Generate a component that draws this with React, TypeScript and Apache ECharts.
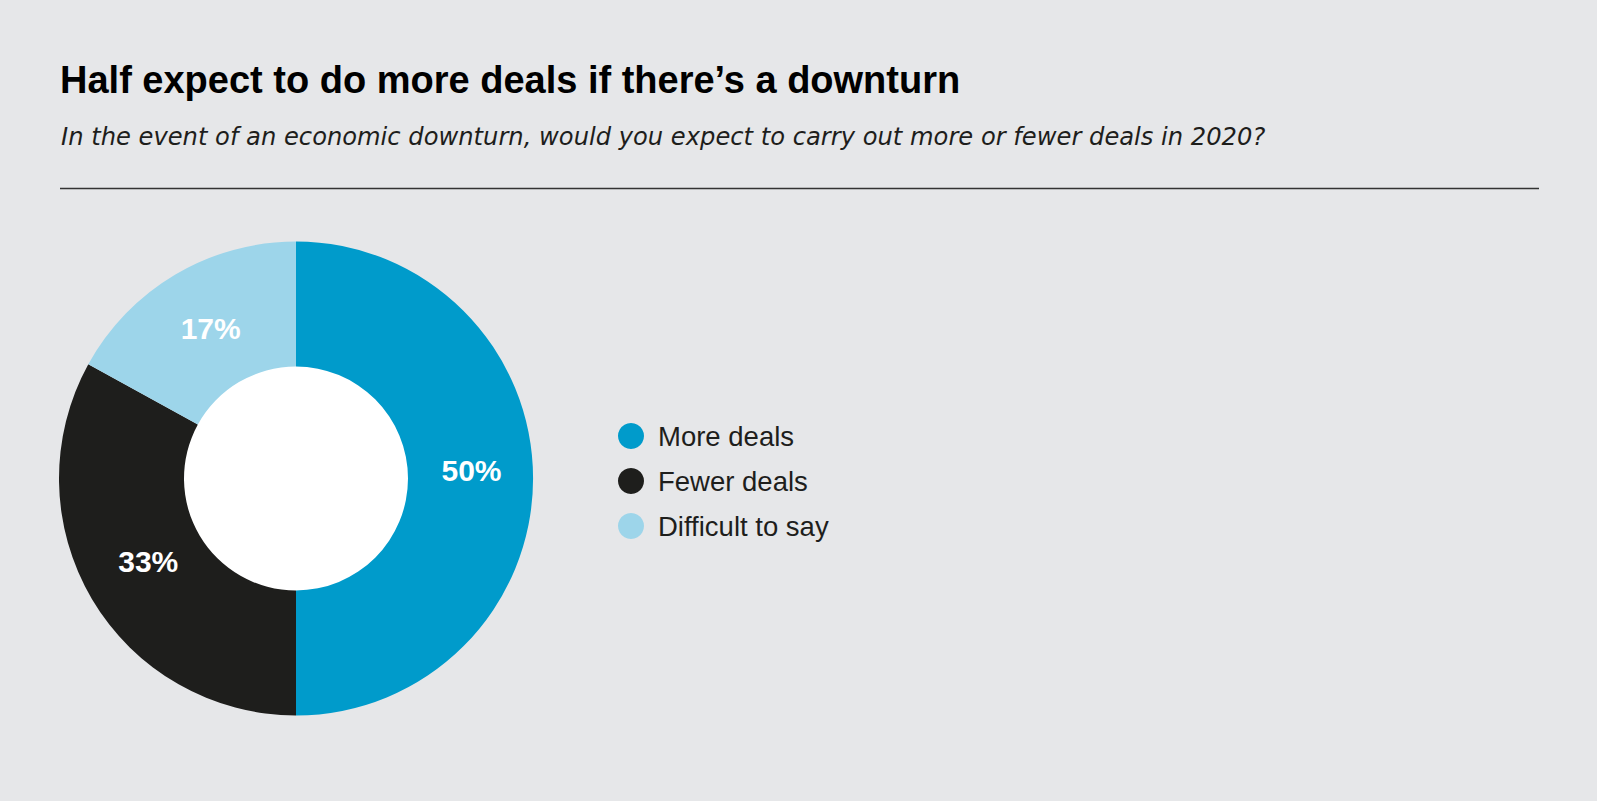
import React, { useEffect, useRef } from "react";
import * as echarts from "echarts";

const categories = ["More deals", "Fewer deals", "Difficult to say"];
const shares = [50, 33, 17];
const sliceColors = ["#009BCB", "#1E1E1C", "#9DD5EA"];
const labelOffsets = [
  [-2, -8],
  [5, -7],
  [5, 3],
];
const titleText = "Half expect to do more deals if there\u2019s a downturn";
const subtitleText =
  "In the event of an economic downturn, would you expect to carry out more or fewer deals in 2020?";

const FONT = "'Liberation Sans', Arial, Helvetica, sans-serif";
const SUBFONT = "'DejaVu Sans', 'Liberation Sans', sans-serif";

export default function App() {
  const ref = useRef<HTMLDivElement>(null);

  useEffect(() => {
    if (!ref.current) return;
    const chart = echarts.init(ref.current, null, { renderer: "svg" });
    const cx = 296;
    const cy = 478.5;
    chart.setOption({
      animation: false,
      backgroundColor: "#E6E7E9",
      title: [
        {
          text: titleText,
          left: 60,
          top: 60,
          padding: 0,
          textStyle: {
            fontFamily: FONT,
            fontSize: 38,
            fontWeight: "bold",
            color: "#000000",
            lineHeight: 40,
          },
        },
        {
          text: subtitleText,
          left: 61,
          top: 122,
          padding: 0,
          textStyle: {
            fontFamily: SUBFONT,
            fontSize: 24.2,
            fontStyle: "italic",
            fontWeight: "normal",
            color: "#1E1E1C",
            lineHeight: 30,
          },
        },
      ],
      legend: {
        orient: "vertical",
        left: 618,
        top: 422,
        padding: 0,
        itemWidth: 44,
        itemHeight: 26,
        itemGap: 17,
        icon: "circle",
        data: categories,
        selectedMode: false,
        textStyle: {
          fontFamily: FONT,
          fontSize: 27.5,
          color: "#1E1E1C",
          lineHeight: 26,
        },
      },
      graphic: [
        {
          type: "line",
          shape: { x1: 60, y1: 188.5, x2: 1539, y2: 188.5 },
          style: { stroke: "#333333", lineWidth: 1.5 },
          silent: true,
        },
        {
          type: "circle",
          shape: { cx, cy, r: 113 },
          style: { fill: "#FFFFFF" },
          silent: true,
          z: -1,
        },
      ],
      series: [
        {
          type: "pie",
          center: [cx, cy],
          radius: [112, 237],
          startAngle: 90,
          clockwise: true,
          silent: true,
          label: {
            show: true,
            position: "inside",
            formatter: "{c}%",
            fontFamily: FONT,
            fontSize: 30,
            fontWeight: "bold",
            color: "#FFFFFF",
          },
          labelLine: { show: false },
          itemStyle: { borderWidth: 0 },
          data: categories.map((name, i) => ({
            name,
            value: shares[i],
            itemStyle: { color: sliceColors[i] },
            label: { offset: labelOffsets[i] },
          })),
        },
      ],
    });
    return () => chart.dispose();
  }, []);

  return (
    <div
      ref={ref}
      style={{ position: "absolute", left: 0, top: 0, width: 1597, height: 801 }}
    />
  );
}
